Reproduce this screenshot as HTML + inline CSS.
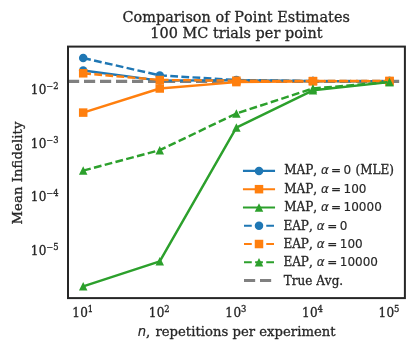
<!DOCTYPE html>
<html lang="en"><head><meta charset="utf-8"><title>Comparison of Point Estimates</title>
<style>html,body{margin:0;padding:0;background:#fff}svg{display:block;will-change:transform}text{font-family:"DejaVu Serif","Liberation Serif",serif;fill:#262626;stroke:#262626;stroke-width:0.3px;font-kerning:none}.m{font-family:"DejaVu Sans","Liberation Sans",sans-serif;stroke-width:0.15px}.i{font-family:"DejaVu Sans","Liberation Sans",sans-serif;font-style:italic;stroke-width:0.15px}</style></head><body>
<svg width="415" height="352" viewBox="0 0 415 352">
<rect width="415" height="352" fill="#fff"/>
<defs><clipPath id="ax"><rect x="68.0" y="46.6" width="336.9" height="251.50000000000003"/></clipPath></defs>
<g clip-path="url(#ax)">
<line x1="68.0" y1="81.3" x2="404.9" y2="81.3" stroke="#808080" stroke-width="3.2" stroke-dasharray="11.17,4.83"/>
<polyline points="83.20,70.50 159.75,80.60 236.35,80.30 312.95,81.10 389.50,81.10" fill="none" stroke="#1f77b4" stroke-width="2.45" stroke-linejoin="round"/>
<circle cx="83.20" cy="70.50" r="4.25" fill="#1f77b4"/>
<circle cx="159.75" cy="80.60" r="4.25" fill="#1f77b4"/>
<circle cx="236.35" cy="80.30" r="4.25" fill="#1f77b4"/>
<circle cx="312.95" cy="81.10" r="4.25" fill="#1f77b4"/>
<circle cx="389.50" cy="81.10" r="4.25" fill="#1f77b4"/>
<polyline points="83.20,112.60 159.75,88.50 236.35,82.10 312.95,81.20 389.50,81.10" fill="none" stroke="#ff7f0e" stroke-width="2.45" stroke-linejoin="round"/>
<rect x="78.95" y="108.35" width="8.50" height="8.50" fill="#ff7f0e"/>
<rect x="155.50" y="84.25" width="8.50" height="8.50" fill="#ff7f0e"/>
<rect x="232.10" y="77.85" width="8.50" height="8.50" fill="#ff7f0e"/>
<rect x="308.70" y="76.95" width="8.50" height="8.50" fill="#ff7f0e"/>
<rect x="385.25" y="76.85" width="8.50" height="8.50" fill="#ff7f0e"/>
<polyline points="83.20,286.30 159.75,261.30 236.35,127.60 312.95,90.30 389.50,82.10" fill="none" stroke="#2ca02c" stroke-width="2.45" stroke-linejoin="round"/>
<polygon points="83.20,282.05 78.95,290.55 87.45,290.55" fill="#2ca02c"/>
<polygon points="159.75,257.05 155.50,265.55 164.00,265.55" fill="#2ca02c"/>
<polygon points="236.35,123.35 232.10,131.85 240.60,131.85" fill="#2ca02c"/>
<polygon points="312.95,86.05 308.70,94.55 317.20,94.55" fill="#2ca02c"/>
<polygon points="389.50,77.85 385.25,86.35 393.75,86.35" fill="#2ca02c"/>
<polyline points="83.20,58.00 159.75,75.40 236.35,80.00 312.95,81.10 389.50,81.10" fill="none" stroke="#1f77b4" stroke-width="2.45" stroke-linejoin="round" stroke-dasharray="7.77,3.36"/>
<circle cx="83.20" cy="58.00" r="4.25" fill="#1f77b4"/>
<circle cx="159.75" cy="75.40" r="4.25" fill="#1f77b4"/>
<circle cx="236.35" cy="80.00" r="4.25" fill="#1f77b4"/>
<circle cx="312.95" cy="81.10" r="4.25" fill="#1f77b4"/>
<circle cx="389.50" cy="81.10" r="4.25" fill="#1f77b4"/>
<polyline points="83.20,73.30 159.75,80.00 236.35,80.70 312.95,81.10 389.50,81.00" fill="none" stroke="#ff7f0e" stroke-width="2.45" stroke-linejoin="round" stroke-dasharray="7.77,3.36"/>
<rect x="78.95" y="69.05" width="8.50" height="8.50" fill="#ff7f0e"/>
<rect x="155.50" y="75.75" width="8.50" height="8.50" fill="#ff7f0e"/>
<rect x="232.10" y="76.45" width="8.50" height="8.50" fill="#ff7f0e"/>
<rect x="308.70" y="76.85" width="8.50" height="8.50" fill="#ff7f0e"/>
<rect x="385.25" y="76.75" width="8.50" height="8.50" fill="#ff7f0e"/>
<polyline points="83.20,170.60 159.75,150.20 236.35,113.50 312.95,88.50 389.50,82.00" fill="none" stroke="#2ca02c" stroke-width="2.45" stroke-linejoin="round" stroke-dasharray="7.77,3.36"/>
<polygon points="83.20,166.35 78.95,174.85 87.45,174.85" fill="#2ca02c"/>
<polygon points="159.75,145.95 155.50,154.45 164.00,154.45" fill="#2ca02c"/>
<polygon points="236.35,109.25 232.10,117.75 240.60,117.75" fill="#2ca02c"/>
<polygon points="312.95,84.25 308.70,92.75 317.20,92.75" fill="#2ca02c"/>
<polygon points="389.50,77.75 385.25,86.25 393.75,86.25" fill="#2ca02c"/>
</g>
<rect x="68.0" y="46.6" width="336.9" height="251.50000000000003" fill="none" stroke="#262626" stroke-width="2"/>
<text x="236.15" y="21.6" font-size="14.4" text-anchor="middle" textLength="227.5">Comparison of Point Estimates</text>
<text x="236.45" y="37.9" font-size="14.4" text-anchor="middle" textLength="172.3">100 MC trials per point</text>
<text x="72.20" y="316.5" font-size="12" letter-spacing="0.4">10<tspan font-size="8.4" dy="-4.9" dx="-0.5">1</tspan></text>
<text x="148.75" y="316.5" font-size="12" letter-spacing="0.4">10<tspan font-size="8.4" dy="-4.9" dx="-0.5">2</tspan></text>
<text x="225.35" y="316.5" font-size="12" letter-spacing="0.4">10<tspan font-size="8.4" dy="-4.9" dx="-0.5">3</tspan></text>
<text x="301.95" y="316.5" font-size="12" letter-spacing="0.4">10<tspan font-size="8.4" dy="-4.9" dx="-0.5">4</tspan></text>
<text x="378.50" y="316.5" font-size="12" letter-spacing="0.4">10<tspan font-size="8.4" dy="-4.9" dx="-0.5">5</tspan></text>
<text x="30.8" y="94.3" font-size="12" letter-spacing="0.4">10<tspan font-size="8.4" dy="-4.9" dx="-0.7" letter-spacing="0">−2</tspan></text>
<text x="30.8" y="147.7" font-size="12" letter-spacing="0.4">10<tspan font-size="8.4" dy="-4.9" dx="-0.7" letter-spacing="0">−3</tspan></text>
<text x="30.8" y="201.1" font-size="12" letter-spacing="0.4">10<tspan font-size="8.4" dy="-4.9" dx="-0.7" letter-spacing="0">−4</tspan></text>
<text x="30.8" y="254.5" font-size="12" letter-spacing="0.4">10<tspan font-size="8.4" dy="-4.9" dx="-0.7" letter-spacing="0">−5</tspan></text>
<text y="336" font-size="13.2"><tspan class="i" x="137.7">n</tspan><tspan x="145.9">,</tspan> <tspan x="155.4" textLength="180.2">repetitions per experiment</tspan></text>
<text transform="translate(21.6,173.1) rotate(-90)" font-size="13.2" text-anchor="middle" textLength="102.9">Mean Infidelity</text>
<line x1="244.0" y1="170.90" x2="274.0" y2="170.90" stroke="#1f77b4" stroke-width="2.1" stroke-linecap="square"/>
<circle cx="259.00" cy="170.90" r="4.25" fill="#1f77b4"/>
<text x="284.2" y="174.00" font-size="12">MAP, <tspan class="i" x="321.0">α</tspan> <tspan class="m" x="331.1">=</tspan> <tspan class="m" x="343.6">0</tspan> <tspan x="355.5">(MLE)</tspan></text>
<line x1="244.0" y1="189.18" x2="274.0" y2="189.18" stroke="#ff7f0e" stroke-width="2.1" stroke-linecap="square"/>
<rect x="254.75" y="184.93" width="8.50" height="8.50" fill="#ff7f0e"/>
<text x="284.2" y="193.00" font-size="12">MAP, <tspan class="i" x="321.0">α</tspan> <tspan class="m" x="331.1">=</tspan> <tspan class="m" x="343.6">100</tspan></text>
<line x1="244.0" y1="207.46" x2="274.0" y2="207.46" stroke="#2ca02c" stroke-width="2.1" stroke-linecap="square"/>
<polygon points="259.00,203.21 254.75,211.71 263.25,211.71" fill="#2ca02c"/>
<text x="284.2" y="211.00" font-size="12">MAP, <tspan class="i" x="321.0">α</tspan> <tspan class="m" x="331.1">=</tspan> <tspan class="m" x="343.6">10000</tspan></text>
<line x1="244.0" y1="225.74" x2="274.0" y2="225.74" stroke="#1f77b4" stroke-width="2.1" stroke-dasharray="7.77,3.36"/>
<circle cx="259.00" cy="225.74" r="4.25" fill="#1f77b4"/>
<text x="283.4" y="230.00" font-size="12">EAP, <tspan class="i" x="316.8">α</tspan> <tspan class="m" x="327.3">=</tspan> <tspan class="m" x="339.8">0</tspan></text>
<line x1="244.0" y1="244.02" x2="274.0" y2="244.02" stroke="#ff7f0e" stroke-width="2.1" stroke-dasharray="7.77,3.36"/>
<rect x="254.75" y="239.77" width="8.50" height="8.50" fill="#ff7f0e"/>
<text x="283.4" y="248.00" font-size="12">EAP, <tspan class="i" x="316.8">α</tspan> <tspan class="m" x="327.3">=</tspan> <tspan class="m" x="339.8">100</tspan></text>
<line x1="244.0" y1="262.30" x2="274.0" y2="262.30" stroke="#2ca02c" stroke-width="2.1" stroke-dasharray="7.77,3.36"/>
<polygon points="259.00,258.05 254.75,266.55 263.25,266.55" fill="#2ca02c"/>
<text x="283.4" y="266.00" font-size="12">EAP, <tspan class="i" x="316.8">α</tspan> <tspan class="m" x="327.3">=</tspan> <tspan class="m" x="339.8">10000</tspan></text>
<line x1="244.0" y1="280.58" x2="274.0" y2="280.58" stroke="#808080" stroke-width="3.02" stroke-dasharray="11.17,4.83"/>
<text x="283.8" y="285" font-size="12">True Avg.</text>
</svg></body></html>
